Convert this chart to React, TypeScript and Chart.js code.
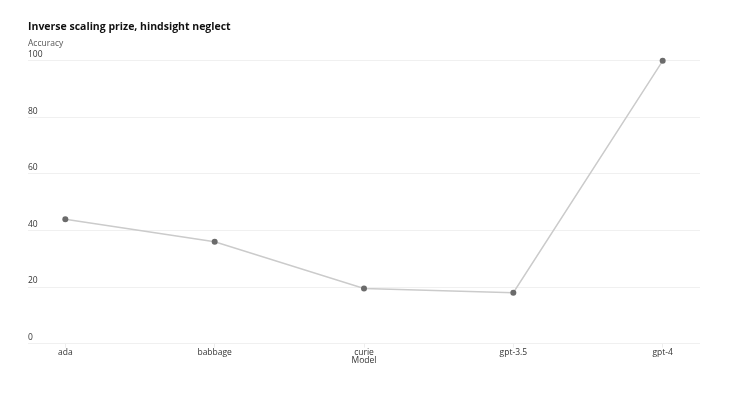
import React, { useEffect, useRef } from "react";
import { Chart, registerables } from "chart.js";

Chart.register(...registerables);

const models = ["ada", "babbage", "curie", "gpt-3.5", "gpt-4"];
const accuracy = [44, 36, 19.5, 18, 100];
const yTicks = [0, 20, 40, 60, 80, 100];

const FONT = "'Open Sans', 'Noto Sans', sans-serif";

export default function App() {
  const ref = useRef<HTMLCanvasElement | null>(null);

  useEffect(() => {
    if (!ref.current) return;
    const chart = new Chart(ref.current, {
      type: "line",
      data: {
        datasets: [
          {
            label: "Accuracy",
            data: accuracy.map((v, i) => ({ x: i, y: v })),
            borderColor: "#cbcbcb",
            borderWidth: 1.5,
            pointRadius: 3,
            pointBackgroundColor: "#6b6b6b",
            pointBorderColor: "#6b6b6b",
            pointBorderWidth: 0,
            tension: 0,
            clip: false,
          },
        ],
      },
      options: {
        animation: false,
        responsive: true,
        maintainAspectRatio: false,
        layout: { padding: { left: 20, right: 25, top: 13, bottom: 32 } },
        plugins: {
          legend: { display: false },
          tooltip: { enabled: false },
          title: {
            display: true,
            text: "Inverse scaling prize, hindsight neglect",
            align: "start",
            color: "#111",
            font: { family: FONT, size: 10.5, weight: "bold" },
            padding: { top: 0, bottom: 5 },
          },
          subtitle: {
            display: true,
            text: "Accuracy",
            align: "start",
            color: "#555",
            font: { family: FONT, size: 8.5 },
            padding: { top: 0, bottom: 12 },
          },
        },
        scales: {
          x: {
            type: "linear",
            min: -0.25,
            max: 4.25,
            afterBuildTicks: (scale: any) => {
              scale.ticks = models.map((_, i) => ({ value: i }));
            },
            ticks: {
              color: "#333",
              font: { family: FONT, size: 8.5 },
              padding: 0,
              maxRotation: 0,
              autoSkip: false,
              callback: (v: any) => models[Number(v)] ?? "",
            },
            grid: {
              drawOnChartArea: false,
              drawTicks: true,
              tickLength: 4,
              color: "#eeeeee",
            },
            border: { display: false },
            title: {
              display: true,
              text: "Model",
              color: "#333",
              font: { family: FONT, size: 8.5 },
              padding: { top: -2, bottom: 0 },
            },
          },
          y: {
            min: 0,
            max: 100,
            afterBuildTicks: (scale: any) => {
              scale.ticks = yTicks.map((v) => ({ value: v }));
            },
            ticks: {
              mirror: true,
              padding: 0,
              labelOffset: -6,
              color: "#333",
              font: { family: FONT, size: 8.5 },
            },
            grid: { color: "#f0f0f0", drawTicks: false, lineWidth: 1 },
            border: { display: false },
          },
        },
      },
    });
    return () => chart.destroy();
  }, []);

  return (
    <div style={{ width: 717, height: 390, position: "relative" }}>
      <canvas ref={ref} />
    </div>
  );
}
